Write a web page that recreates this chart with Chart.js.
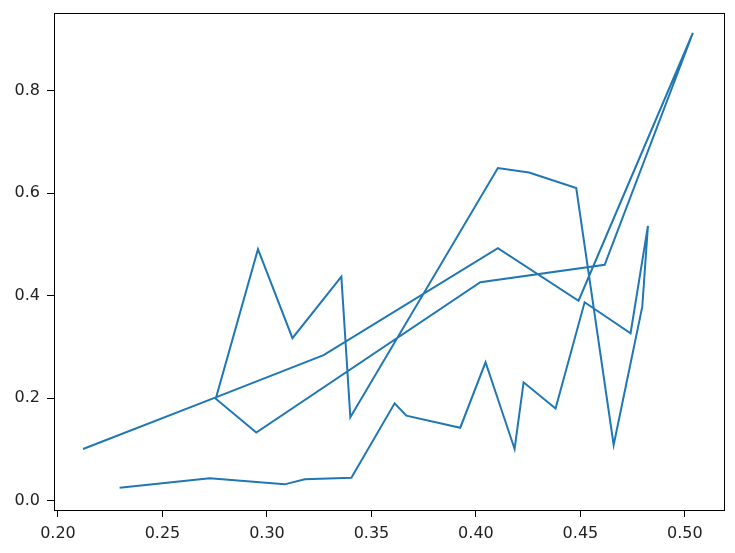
<!DOCTYPE html>
<html>
<head>
<meta charset="utf-8">
<script src="https://cdn.jsdelivr.net/npm/chart.js@4/dist/chart.umd.min.js"></script>
<style>
  html, body { margin: 0; padding: 0; background: #fff; }
  #wrap { width: 735px; height: 553px; }
</style>
</head>
<body>
<div id="wrap"><canvas id="chart"></canvas></div>
<script>
// path points, in drawing order
const xs = [0.212, 0.2758, 0.3271, 0.4105, 0.4491, 0.5038, 0.4616, 0.4021, 0.2949, 0.2755,
            0.2957, 0.3122, 0.3356, 0.3399, 0.4105, 0.4254, 0.448, 0.4659, 0.4796, 0.4823,
            0.474, 0.452, 0.4381, 0.4228, 0.4185, 0.4046, 0.3925, 0.3667, 0.3611, 0.3404,
            0.3181, 0.3085, 0.2726, 0.2295];
const ys = [0.101, 0.202, 0.284, 0.4925, 0.390, 0.912, 0.460, 0.426, 0.133, 0.199,
            0.4905, 0.317, 0.437, 0.163, 0.6486, 0.640, 0.6096, 0.1087, 0.3785, 0.536,
            0.3266, 0.387, 0.180, 0.231, 0.101, 0.270, 0.1424, 0.166, 0.190, 0.0449,
            0.0418, 0.032, 0.0437, 0.0254];
const xTickStep = 0.05;
const yTickStep = 0.2;

const points = xs.map((x, i) => ({ x: x, y: ys[i] }));

const frame = {
  id: 'frame',
  afterDraw(chart) {
    const { ctx, chartArea: a } = chart;
    ctx.save();
    ctx.strokeStyle = '#000';
    ctx.lineWidth = 1;
    ctx.strokeRect(Math.round(a.left) + 0.5, Math.round(a.top) + 0.5,
                   Math.round(a.right - a.left), Math.round(a.bottom - a.top));
    ctx.restore();
  }
};

const font = { family: 'DejaVu Sans', size: 16 };

new Chart(document.getElementById('chart'), {
  type: 'scatter',
  data: {
    datasets: [{
      data: points,
      showLine: true,
      borderColor: '#1f77b4',
      borderWidth: 2,
      pointRadius: 0,
      tension: 0
    }]
  },
  options: {
    responsive: true,
    maintainAspectRatio: false,
    animation: false,
    layout: { padding: { top: 13, right: 11, left: 0, bottom: 0 } },
    scales: {
      x: {
        type: 'linear',
        min: 0.1981,
        max: 0.5187,
        afterFit(s) { s.height = 43; s.paddingLeft = 0; s.paddingRight = 0; },
        border: { display: false },
        grid: { drawOnChartArea: false, drawTicks: true, tickLength: 7, color: '#000' },
        ticks: {
          stepSize: xTickStep,
          includeBounds: false,
          color: '#222',
          font: font,
          padding: 7,
          maxRotation: 0,
          callback: v => v.toFixed(2)
        }
      },
      y: {
        type: 'linear',
        min: -0.018,
        max: 0.951,
        afterFit(s) { s.width = 54; s.paddingTop = 0; s.paddingBottom = 0; },
        border: { display: false },
        grid: { drawOnChartArea: false, drawTicks: true, tickLength: 7, color: '#000' },
        ticks: {
          stepSize: yTickStep,
          includeBounds: false,
          color: '#222',
          font: font,
          padding: 7,
          callback: v => v.toFixed(1)
        }
      }
    },
    plugins: { legend: { display: false }, tooltip: { enabled: false } }
  },
  plugins: [frame]
});
</script>
</body>
</html>
